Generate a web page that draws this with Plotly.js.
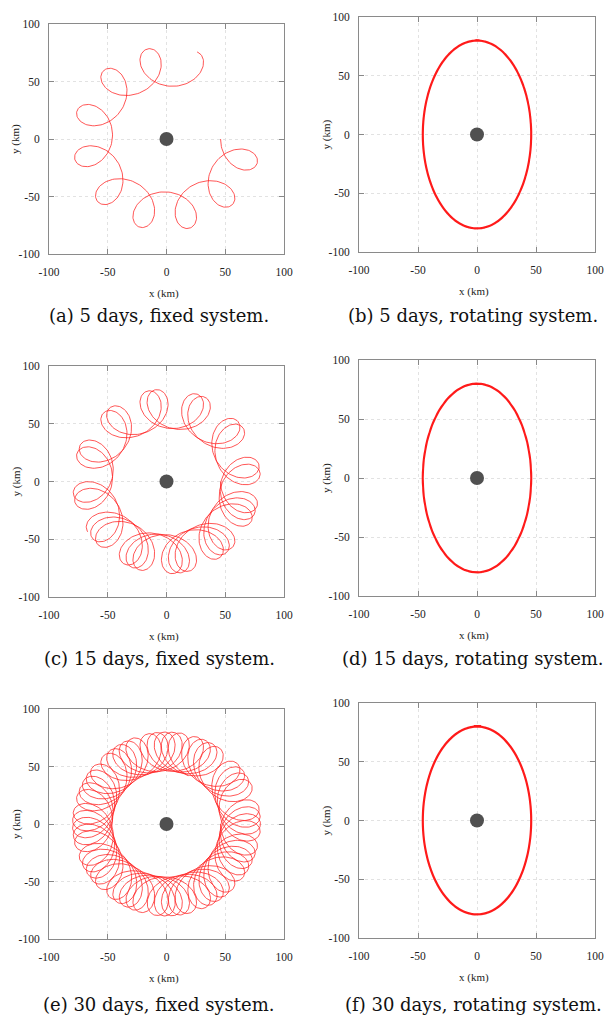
<!DOCTYPE html>
<html>
<head>
<meta charset="utf-8">
<script src="https://cdn.plot.ly/plotly-3.0.1.min.js"></script>
<style>html,body{margin:0;padding:0;background:#fff;}#chart{width:605px;height:1020px;}</style>
</head>
<body>
<div id="chart"></div>
<script>
// ---- values ----
const durationsDays = [5, 15, 30];                 // panels (a)/(b), (c)/(d), (e)/(f)
const ellipseSemiAxesKm = [46, 80];                // rotating-frame ellipse: x semi-axis, y semi-axis
const ellipseRateDegPerDay = [-342];               // motion along the ellipse (clockwise)
const frameRateDegPerDay = [284.2];                // rotation of the rotating system w.r.t. fixed system
const captions = [
  "(a) 5 days, fixed system.", "(b) 5 days, rotating system.",
  "(c) 15 days, fixed system.", "(d) 15 days, rotating system.",
  "(e) 30 days, fixed system.", "(f) 30 days, rotating system."
];
const tickValues = [-100, -50, 0, 50, 100];
const tickLabels = ["-100", "-50", "0", "50", "100"];
const centerBody = {x: [0], y: [0]};

// ---- build tracks ----
function track(days, fixed) {
  const xs = [], ys = [];
  const deg = Math.PI / 180;
  const dt = 1 / 150;
  const n = Math.round(days / dt);
  for (let i = 0; i <= n; i++) {
    const t = i * dt;
    const phi = ellipseRateDegPerDay[0] * t * deg;
    const xr = ellipseSemiAxesKm[0] * Math.cos(phi);
    const yr = ellipseSemiAxesKm[1] * Math.sin(phi);
    if (fixed) {
      const th = frameRateDegPerDay[0] * t * deg;
      xs.push(xr * Math.cos(th) - yr * Math.sin(th));
      ys.push(xr * Math.sin(th) + yr * Math.cos(th));
    } else {
      xs.push(xr); ys.push(yr);
    }
  }
  return {x: xs, y: ys};
}

const W = 605, H = 1020;
const SERIF = "Liberation Serif";
// plot areas in pixels [left, right, top, bottom]
const boxes = [
  [49, 284, 24, 254], [359, 595, 17, 252],
  [49, 284, 366, 597], [359, 595, 360, 596],
  [49, 284, 709, 939], [359, 595, 703, 938]
];
const captionY = [315, 315, 658, 658, 1004, 1004];

const traces = [];
const layout = {
  width: W, height: H,
  margin: {l: 0, r: 0, t: 0, b: 0},
  paper_bgcolor: "#fff", plot_bgcolor: "#fff",
  showlegend: false,
  font: {family: SERIF, color: "#222", size: 11},
  annotations: []
};

boxes.forEach((b, i) => {
  const k = i + 1;
  const xa = "x" + (k === 1 ? "" : k), ya = "y" + (k === 1 ? "" : k);
  const fixed = (i % 2 === 0);
  const days = durationsDays[Math.floor(i / 2)];
  const tr = track(days, fixed);
  traces.push({
    type: "scatter", mode: "lines", x: tr.x, y: tr.y, xaxis: xa, yaxis: ya,
    line: {color: fixed ? "rgba(255,30,30,0.75)" : "#ff1a1a", width: fixed ? 1 : 2},
    hoverinfo: "skip"
  });
  traces.push({
    type: "scatter", mode: "markers", x: centerBody.x, y: centerBody.y, xaxis: xa, yaxis: ya,
    marker: {color: "#505050", size: 14},
    hoverinfo: "skip"
  });
  const axCommon = {
    range: [-100, 100], tickmode: "array", tickvals: tickValues, ticktext: tickLabels,
    ticks: "inside", ticklen: 5, tickcolor: "#888", tickwidth: 1,
    showline: true, linecolor: "#8a8a8a", linewidth: 1, mirror: "ticks",
    showgrid: true, gridcolor: "#e2e2e2", griddash: "dot", gridwidth: 1,
    zeroline: false, fixedrange: true,
    tickfont: {family: SERIF, size: 11.5, color: "#222"}
  };
  layout["xaxis" + (k === 1 ? "" : k)] = Object.assign({}, axCommon, {
    domain: [b[0] / W, b[1] / W], anchor: ya, ticklabelstandoff: 7
  });
  layout["yaxis" + (k === 1 ? "" : k)] = Object.assign({}, axCommon, {
    domain: [1 - b[3] / H, 1 - b[2] / H], anchor: xa, ticklabelstandoff: 6
  });
  const cx = (b[0] + b[1]) / 2, cy = (b[2] + b[3]) / 2;
  layout.annotations.push({
    xref: "paper", yref: "paper", x: (cx - 3) / W, y: 1 - (b[3] + 39) / H,
    text: "x (km)", showarrow: false, xanchor: "center", yanchor: "middle",
    font: {family: SERIF, size: 11, color: "#222"}
  });
  layout.annotations.push({
    xref: "paper", yref: "paper", x: (b[0] - 33) / W, y: 1 - cy / H,
    text: "y (km)", showarrow: false, xanchor: "center", yanchor: "middle", textangle: -90,
    font: {family: SERIF, size: 11, color: "#222"}
  });
  layout.annotations.push({
    xref: "paper", yref: "paper", x: (fixed ? 159 : 473) / W, y: 1 - captionY[i] / H,
    text: captions[i], showarrow: false, xanchor: "center", yanchor: "middle",
    font: {family: "DejaVu Serif", size: 18, color: "#111"}
  });
});

Plotly.newPlot("chart", traces, layout, {displayModeBar: false, staticPlot: true});
</script>
</body>
</html>
